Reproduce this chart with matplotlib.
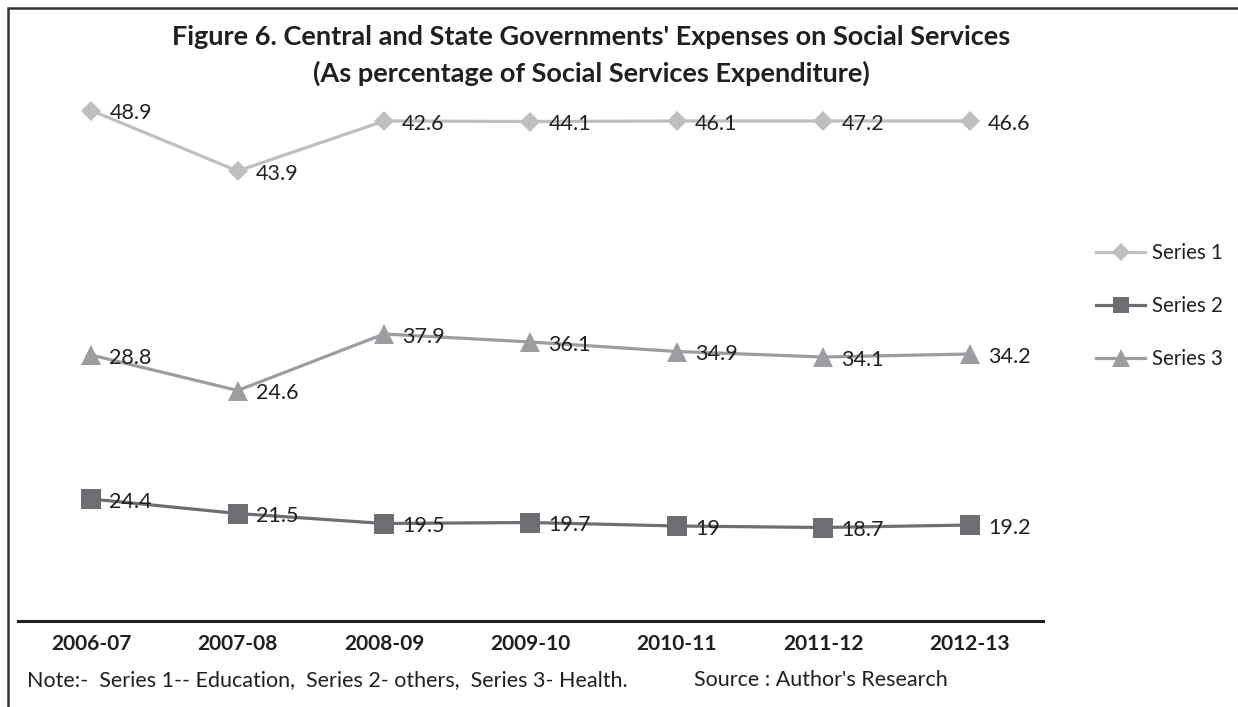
import numpy as np
import matplotlib.pyplot as plt
from matplotlib.patches import Rectangle

years = ["2006-07", "2007-08", "2008-09", "2009-10", "2010-11", "2011-12", "2012-13"]
series1 = [48.9, 43.9, 42.6, 44.1, 46.1, 47.2, 46.6]   # Education
series2 = [24.4, 21.5, 19.5, 19.7, 19.0, 18.7, 19.2]   # others
series3 = [28.8, 24.6, 37.9, 36.1, 34.9, 34.1, 34.2]   # Health

plt.rcParams['font.family'] = ['Lato', 'DejaVu Sans']

# stacked line chart: series 2 at the bottom, then 3, then 1
x = np.arange(len(years))
level2 = np.array(series2)
level3 = level2 + np.array(series3)
level1 = level3 + np.array(series1)

fig = plt.figure(figsize=(12.38, 7.07), dpi=100)
ax = fig.add_axes([18 / 1238, 86 / 707, 1025 / 1238, 600 / 707])

c1, c2, c3 = "#BEBFC1", "#6D6E71", "#9C9DA0"
text_col = "#231F20"

ax.plot(x, level1, color=c1, lw=2.3, marker="D", ms=10.5, mew=0, label="Series 1")
ax.plot(x, level2, color=c2, lw=2.3, marker="s", ms=14, mew=0, label="Series 2")
ax.plot(x, level3, color=c3, lw=2.3, marker="^", ms=15, mew=0, label="Series 3")

for vals, levels in [(series1, level1), (series2, level2), (series3, level3)]:
    for xi, v, lv in zip(x, vals, levels):
        ax.annotate(f"{v:g}", (xi, lv), xytext=(13, -2), textcoords="offset points",
                    ha="left", va="center", fontsize=15.5, color=text_col)

ax.set_xlim(-0.5, len(years) - 0.5)
ax.set_ylim(0, 120)
ax.set_xticks(x)
ax.set_xticklabels(years, fontweight="bold", fontsize=15, color=text_col)
ax.set_yticks([])
ax.tick_params(axis="x", length=0, pad=9)
for side in ["left", "right", "top"]:
    ax.spines[side].set_visible(False)
ax.spines["bottom"].set_linewidth(2.2)
ax.spines["bottom"].set_color(text_col)
ax.patch.set_alpha(0)

fig.text(591 / 1238, 1 - 37 / 707, "Figure 6. Central and State Governments' Expenses on Social Services",
         ha="center", va="center", fontsize=19.5, fontweight="bold", color=text_col)
fig.text(591 / 1238, 1 - 73 / 707, "(As percentage of Social Services Expenditure)",
         ha="center", va="center", fontsize=19.5, fontweight="bold", color=text_col)

fig.text(27 / 1238, 1 - 680 / 707, "Note:-  Series 1-- Education,  Series 2- others,  Series 3- Health.",
         ha="left", va="center", fontsize=15.5, color=text_col)
fig.text(694 / 1238, 1 - 680 / 707, "Source : Author's Research",
         ha="left", va="center", fontsize=15.5, color=text_col)

fig.legend(loc="center left", bbox_to_anchor=(1096 / 1238, 1 - 306 / 707),
           frameon=False, fontsize=14.8, handlelength=2.4, handletextpad=0.3,
           labelspacing=1.6, borderpad=0, borderaxespad=0, labelcolor=text_col,
           markerscale=0.85)

# outer frame of the figure (right and bottom run off the picture)
fig.patches.append(Rectangle((8 / 1238, -0.05), 1.1, 1.05 - 8 / 707, transform=fig.transFigure,
                             fill=False, edgecolor="#333333", lw=1.8))

fig.savefig("out.png", dpi=100)
